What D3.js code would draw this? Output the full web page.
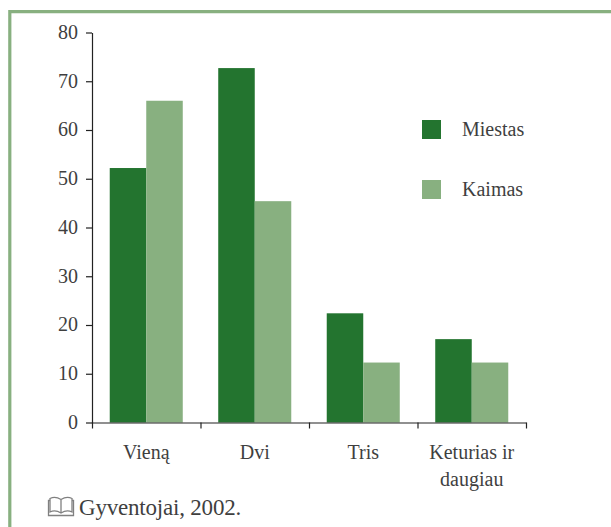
<!DOCTYPE html>
<html><head><meta charset="utf-8">
<script src="https://cdn.jsdelivr.net/npm/d3@7"></script>
<style>
html,body{margin:0;padding:0;background:#fff}
svg{display:block}
text{font-family:"Liberation Serif",serif;fill:#3f3f3f}
</style></head><body>
<script>
const categories = [["Vieną"],["Dvi"],["Tris"],["Keturias ir","daugiau"]];
const seriesNames = ["Miestas","Kaimas"];
const miestas = [52.2,72.7,22.4,17.1];
const kaimas = [66,45.4,12.3,12.3];
const yTicks = [0,10,20,30,40,50,60,70,80];
const source = "Gyventojai, 2002.";
const colors = ["#23742f","#88b080"];
const axisColor = "#222";
const fs = 20;

const svg = d3.select("body").append("svg").attr("width",611).attr("height",527);
svg.append("rect").attr("width",611).attr("height",527).attr("fill","#fff");
svg.append("path").attr("d","M9.8,527V11.6H611").attr("fill","none").attr("stroke","#88b080").attr("stroke-width",3.2);

const keys = categories.map((c,i)=>i);
const x = d3.scaleBand().domain(keys).range([92,526]).paddingInner(0.327).paddingOuter(0.1635);
const xi = d3.scaleBand().domain([0,1]).range([0,x.bandwidth()]);
const y = d3.scaleLinear().domain([0,80]).range([422.5,32.5]);

[miestas,kaimas].forEach((vals,s)=>{
  svg.append("g").selectAll("rect").data(vals).join("rect")
    .attr("x",(d,i)=>x(i)+xi(s))
    .attr("width",xi.bandwidth())
    .attr("y",d=>y(d))
    .attr("height",d=>y(0)-y(d))
    .attr("fill",colors[s]);
});

const gy = svg.append("g").attr("transform","translate(92,0)")
  .call(d3.axisLeft(y).tickValues(yTicks).tickSize(6).tickSizeOuter(0));
gy.selectAll("path,line").attr("stroke",axisColor).attr("stroke-width",1.2);
gy.selectAll("text").attr("x",-14).attr("dy","0.29em")
  .style("font-size",fs+"px").style("font-family",'"Liberation Serif",serif').style("fill","#3f3f3f");

const edges = d3.scalePoint().domain(d3.range(categories.length+1)).range([92,526]);
const gx = svg.append("g").attr("transform","translate(0,422.5)")
  .call(d3.axisBottom(edges).tickSize(6).tickSizeOuter(0).tickFormat(""));
gx.selectAll("path,line").attr("stroke",axisColor).attr("stroke-width",1.2);

categories.forEach((lines,i)=>{
  const cx = x(i)+x.bandwidth()/2;
  const t = svg.append("text").attr("text-anchor","middle").attr("font-size",fs).attr("x",cx).attr("y",459);
  lines.forEach((l,j)=>t.append("tspan").attr("x",cx).attr("dy",j?27:0).text(l));
});

const legendY = d3.scalePoint().domain(seriesNames).range([130,190]);
seriesNames.forEach((n,i)=>{
  svg.append("rect").attr("x",422).attr("y",legendY(n)-10).attr("width",19).attr("height",19).attr("fill",colors[i]);
  svg.append("text").attr("x",462).attr("y",legendY(n)+6).attr("font-size",fs).text(n);
});

const book = svg.append("g").attr("fill","none").attr("stroke","#808080").attr("stroke-width",1.3);
book.append("path").attr("d","M61,499.5C57,497 53,497 50,498.5V512C53,510.5 57,510.5 61,513C65,510.5 69,510.5 72,512V498.5C69,497 65,497 61,499.5V513");
book.append("path").attr("d","M50,500.5H48.5V515.5H73.5V500.5H72");
svg.append("text").attr("x",79).attr("y",515).attr("font-size",23).attr("letter-spacing","-0.2").text(source);
</script>
</body></html>
